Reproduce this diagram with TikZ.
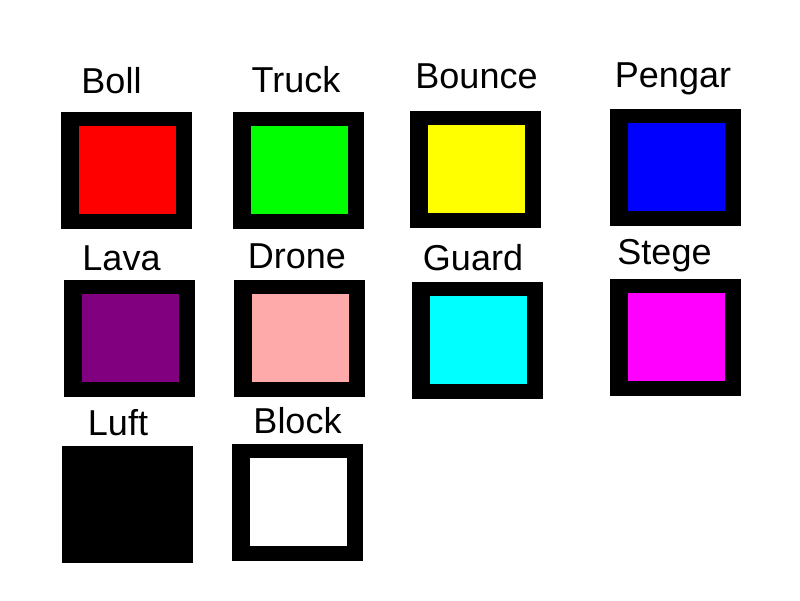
\documentclass[tikz,border=0pt]{standalone}
\usepackage{fontspec}
\setmainfont{Liberation Sans}
\usepackage{tikz}
\definecolor{bollfill}{RGB}{255,0,0}
\definecolor{truckfill}{RGB}{0,255,0}
\definecolor{bouncefill}{RGB}{255,255,0}
\definecolor{pengarfill}{RGB}{0,0,255}
\definecolor{lavafill}{RGB}{128,0,128}
\definecolor{dronefill}{RGB}{255,170,170}
\definecolor{guardfill}{RGB}{0,255,255}
\definecolor{stegefill}{RGB}{255,0,255}
\tikzstyle{frame} = [rectangle, fill=black, minimum width=131pt,
    minimum height=117pt, inner sep=0pt]
\tikzstyle{tile} = [rectangle, minimum width=97pt, minimum height=88pt,
    inner sep=0pt, xshift=1pt, yshift=0.5pt]
\tikzstyle{label} = [anchor=base, inner sep=0pt,
    font=\fontsize{36}{40}\selectfont]

\begin{document}
\begin{tikzpicture}[x=1pt,y=-1pt]
    \useasboundingbox (0,0) rectangle (800,600);
    % Place frames
    \node [frame] (boll) at (126.5,170.5) {};
    \node [frame] (truck) at (298.5,170.5) {};
    \node [frame] (bounce) at (475.5,169.5) {};
    \node [frame] (pengar) at (675.5,167.5) {};
    \node [frame] (lava) at (129.5,338.5) {};
    \node [frame] (drone) at (299.5,338.5) {};
    \node [frame] (guard) at (477.5,340.5) {};
    \node [frame] (stege) at (675.5,337.5) {};
    \node [frame] (luft) at (127.5,504.5) {};
    \node [frame] (block) at (297.5,502.5) {};

    % Place tiles
    \node [tile, fill=bollfill] (bolltile) at (boll.center) {};
    \node [tile, fill=truckfill] (trucktile) at (truck.center) {};
    \node [tile, fill=bouncefill] (bouncetile) at (bounce.center) {};
    \node [tile, fill=pengarfill] (pengartile) at (pengar.center) {};
    \node [tile, fill=lavafill] (lavatile) at (lava.center) {};
    \node [tile, fill=dronefill] (dronetile) at (drone.center) {};
    \node [tile, fill=guardfill] (guardtile) at (guard.center) {};
    \node [tile, fill=stegefill] (stegetile) at (stege.center) {};
    \node [tile, fill=white] (blocktile) at (block.center) {};

    % Place labels
    \node [label] (bolltext) at (111.5,93) {Boll};
    \node [label] (trucktext) at (296,92) {Truck};
    \node [label] (bouncetext) at (476.5,88) {Bounce};
    \node [label] (pengartext) at (673,87) {Pengar};
    \node [label] (lavatext) at (121.5,270) {Lava};
    \node [label] (dronetext) at (297,268) {Drone};
    \node [label] (guardtext) at (473,270) {Guard};
    \node [label] (stegetext) at (664.5,264) {Stege};
    \node [label] (lufttext) at (118,435) {Luft};
    \node [label] (blocktext) at (297.5,433) {Block};
\end{tikzpicture}
\end{document}
